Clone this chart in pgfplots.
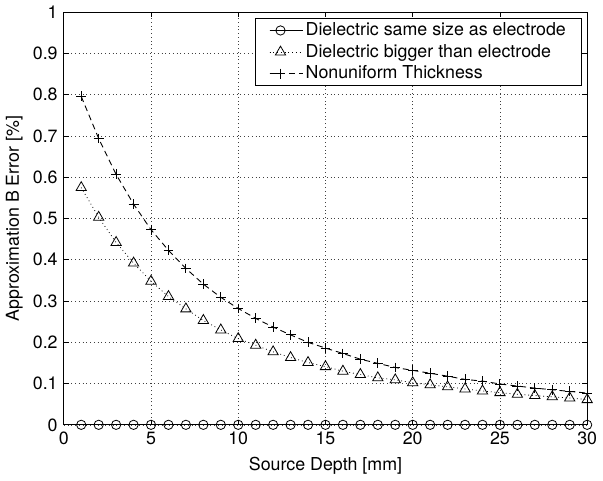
\documentclass[border=0pt]{standalone}
\usepackage{fontspec}
\setmainfont{TeX Gyre Heros}
\usepackage{pgfplots}
\pgfplotsset{compat=1.18}

% depth [mm] vs approximation error [%]
\pgfplotstableread{
x same bigger nonuni
1  0 0.575 0.796
2  0 0.503 0.694
3  0 0.442 0.607
4  0 0.392 0.535
5  0 0.348 0.473
6  0 0.311 0.423
7  0 0.281 0.379
8  0 0.253 0.341
9  0 0.230 0.309
10 0 0.209 0.282
11 0 0.193 0.258
12 0 0.177 0.237
13 0 0.163 0.218
14 0 0.151 0.200
15 0 0.141 0.186
16 0 0.130 0.173
17 0 0.122 0.159
18 0 0.114 0.149
19 0 0.109 0.139
20 0 0.102 0.132
21 0 0.097 0.125
22 0 0.092 0.118
23 0 0.087 0.110
24 0 0.082 0.106
25 0 0.078 0.099
26 0 0.074 0.094
27 0 0.071 0.089
28 0 0.068 0.085
29 0 0.065 0.081
30 0 0.061 0.077
}\errdata

\begin{document}
\fontsize{18}{21}\selectfont
\begin{tikzpicture}
\begin{axis}[
  scale only axis,
  width=529pt, height=417pt,
  xmin=0, xmax=30, ymin=0, ymax=1,
  xtick={0,5,...,30},
  ytick={0,0.1,...,1},
  yticklabel style={/pgf/number format/.cd,fixed,precision=1},
  /pgf/number format/assume math mode=true,
  tick label style={font=\fontsize{18}{21}\selectfont},
  label style={font=\fontsize{18}{21}\selectfont},
  tick align=inside,
  major tick length=5pt,
  axis line style={line width=1pt},
  every tick/.style={black, line width=0.8pt},
  grid=major,
  grid style={black!75, line width=0.6pt, dash pattern=on 0.8pt off 3pt},
  xlabel={Source Depth [mm]},
  ylabel={Approximation B Error [\%]},
  ylabel style={yshift=-2pt},
  xticklabel style={yshift=-1pt},
  legend cell align=left,
  legend style={
    at={(0.9905,0.9856)}, anchor=north east,
    draw=black, line width=1pt,
    font=\fontsize{18}{21}\selectfont,
    row sep=2pt,
    inner xsep=14pt, inner ysep=2pt,
  },
  legend image code/.code={
    \draw[mark repeat=2,mark phase=2] plot coordinates {(0pt,0pt) (11pt,0pt) (22pt,0pt)};
    \path (0pt,0pt) -- (34pt,0pt);
  },
]
\addplot[black, line width=0.9pt, mark=o, mark size=4.7pt,
  mark options={solid, fill=white, line width=0.8pt}]
  table[x=x, y=same] {\errdata};
\addlegendentry{Dielectric same size as electrode}
\addplot[black, line width=0.8pt, dash pattern=on 0.8pt off 3pt, mark=triangle, mark size=6pt,
  mark options={solid, fill=white, line width=0.8pt}]
  table[x=x, y=bigger] {\errdata};
\addlegendentry{Dielectric bigger than electrode}
\addplot[black, line width=0.9pt, dash pattern=on 6pt off 4pt, mark=+, mark size=5pt,
  mark options={solid, line width=0.9pt}]
  table[x=x, y=nonuni] {\errdata};
\addlegendentry{Nonuniform Thickness}
\end{axis}
\end{tikzpicture}
\end{document}
